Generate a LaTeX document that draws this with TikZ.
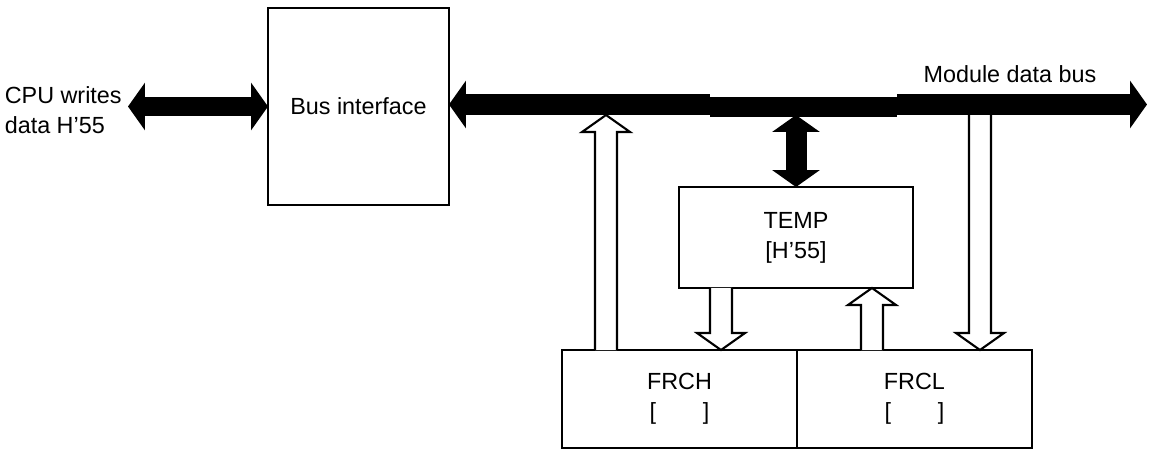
\documentclass[tikz,border=0pt]{standalone}
\usepackage{fontspec}
\setmainfont{Liberation Sans}
\usetikzlibrary{arrows.meta,calc,positioning}

\tikzset{
    blk/.style={draw, line width=1.3pt, outer sep=0pt, inner sep=0pt},
    fat/.style={line width=0.42cm},
    hollow/.style={draw, fill=white, line width=1.2pt, line join=miter},
    >={Triangle[width=0.94cm,length=0.34cm]}
}

% open block arrow, vertical: tail -> level of target
\newcommand{\hollowarrow}[2]{%
    \draw[hollow] let \p1=(#1), \p2=(#2), \p3=($(\x1,\y2)!0.34cm!(#1)$) in
        (\x1-0.22cm,\y1) -- (\x1-0.22cm,\y3) -- (\x1-0.48cm,\y3) -- (\x1,\y2)
        -- (\x1+0.48cm,\y3) -- (\x1+0.22cm,\y3) -- (\x1+0.22cm,\y1);}

\begin{document}
\begin{tikzpicture}[x=0.02cm, y=-0.02cm,
    every node/.style={font=\fontsize{13.3pt}{17pt}\selectfont}]
    \useasboundingbox (0,0) rectangle (1154,450);

    % blocks
    \node[blk, minimum width=3.62cm, minimum height=3.94cm] (bif) at (358.5,106.5) {Bus interface};
    \node[blk, minimum width=4.68cm, minimum height=2.02cm, align=center] (temp) at (796,237.5) {TEMP\\{[H’55]}};
    \node[blk, minimum width=4.7cm, minimum height=1.96cm, align=center] (frch) at (679.5,399) {FRCH\\{[\hspace{2em}]}};
    \node[blk, minimum width=4.7cm, minimum height=1.96cm, align=center, right=0cm of frch] (frcl) {FRCL\\{[\hspace{2em}]}};

    % labels
    \node[anchor=east, align=left, inner sep=0.12cm] (cpu) at (128,110.5) {CPU writes\\data H’55};
    \node (buslbl) at (1010,74.5) {Module data bus};

    % module data bus
    \coordinate (busend) at (1147,104.5);
    \coordinate (busbot) at (1147,115);
    \draw[fat,<->] (bif.east |- busend) -- (busend);
    \fill[white] (710,93) rectangle (897,96.5);
    \fill (710,96.5) rectangle (897,117);
    \draw[fat,<->, line width=0.38cm] (cpu.east |- bif.west) -- (bif.west);
    \draw[fat,<->] (temp.north |- busbot) -- (temp.north);

    % transfers
    \hollowarrow{$(frch.north west)+(44,0)$}{busbot}
    \hollowarrow{$(temp.south west)+(42,0)$}{frch.north}
    \hollowarrow{$(frcl.north west)+(75,0)$}{temp.south}
    \hollowarrow{$(frcl.north west |- busbot)+(183,0)$}{frcl.north}
\end{tikzpicture}
\end{document}
